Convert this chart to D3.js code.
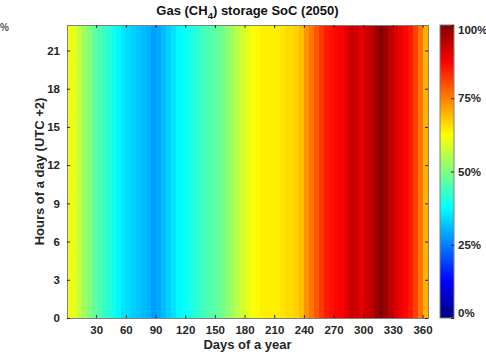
<!DOCTYPE html>
<html>
<head>
<meta charset="utf-8">
<script src="https://cdn.jsdelivr.net/npm/d3@7"></script>
<style>
  body { margin: 0; background: #fff; }
  text { font-family: "Liberation Sans", Arial, sans-serif; font-weight: bold; }
</style>
</head>
<body>
<div id="chart"></div>
<script>
// state of charge (0..1), one value per 5-day block, days 1..365
const blockStartDays = [1,6,11,16,21,26,31,36,41,46,51,56,61,66,71,76,81,86,91,96,101,106,111,116,121,126,131,136,141,146,151,156,161,166,171,176,181,186,191,196,201,206,211,216,221,226,231,236,241,246,251,256,261,266,271,276,281,286,291,296,301,306,311,316,321,326,331,336,341,346,351,356,361];
const socValues = [0.61,0.60,0.56,0.53,0.50,0.47,0.45,0.43,0.41,0.39,0.37,0.35,0.34,0.33,0.32,0.31,0.30,0.28,0.29,0.31,0.33,0.35,0.37,0.38,0.39,0.41,0.42,0.44,0.45,0.46,0.47,0.49,0.51,0.53,0.56,0.58,0.60,0.62,0.63,0.64,0.64,0.64,0.64,0.65,0.66,0.66,0.67,0.69,0.73,0.76,0.79,0.82,0.85,0.86,0.87,0.88,0.90,0.93,0.92,0.90,0.92,0.94,0.97,1.00,0.97,0.94,0.91,0.89,0.87,0.85,0.81,0.76,0.70];
const dayTicks = [30,60,90,120,150,180,210,240,270,300,330,360];
const hourTicks = [0,3,6,9,12,15,18,21];
const cbarTicks = [0,0.25,0.5,0.75,1];

const W = 486, H = 355;
const margin = { left: 67, right: 58, top: 25, bottom: 37 };
const width = W - margin.left - margin.right;
const height = H - margin.top - margin.bottom;

// MATLAB jet colormap
const jetStops = [0, 0.125, 0.375, 0.625, 0.875, 1];
const jetColors = ["#000080", "#0000ff", "#00ffff", "#ffff00", "#ff0000", "#800000"];
const color = d3.scaleLinear().domain(jetStops).range(jetColors).clamp(true);

const svg = d3.select("#chart").append("svg")
  .attr("width", W).attr("height", H);

const g = svg.append("g")
  .attr("transform", "translate(" + margin.left + "," + margin.top + ")");

const x = d3.scaleLinear().domain([0.5, 365.5]).range([0, width]);
const y = d3.scaleLinear().domain([0, 23]).range([height, 0]);

const blocks = blockStartDays.map((d, i) => ({ start: d, end: Math.min(d + 5, 366), v: socValues[i] }));

g.selectAll("rect.cell")
  .data(blocks)
  .enter()
  .append("rect")
  .attr("class", "cell")
  .attr("x", d => x(d.start - 0.5))
  .attr("y", y(23))
  .attr("width", d => x(d.end - 0.5) - x(d.start - 0.5) + 0.5)
  .attr("height", y(0) - y(23))
  .attr("fill", d => color(d.v))
  .attr("shape-rendering", "crispEdges");

// axes with inward ticks, MATLAB style
const axisColor = "#262626";
const xb = g.append("g")
  .attr("transform", "translate(0," + height + ")")
  .call(d3.axisBottom(x).tickValues(dayTicks).tickSize(-3).tickPadding(8));
const xt = g.append("g")
  .call(d3.axisTop(x).tickValues(dayTicks).tickSize(-3).tickFormat(""));
const yl = g.append("g")
  .call(d3.axisLeft(y).tickValues(hourTicks).tickSize(-3).tickPadding(7));
const yr = g.append("g")
  .attr("transform", "translate(" + width + ",0)")
  .call(d3.axisRight(y).tickValues(hourTicks).tickSize(-3).tickFormat(""));

[xb, xt, yl, yr].forEach(a => {
  a.select(".domain").attr("stroke", "#808080").attr("stroke-width", 1);
  a.selectAll(".tick line").attr("stroke", axisColor);
  a.selectAll("text").attr("fill", axisColor).style("font-size", "11.5px")
    .style("font-family", "'Liberation Sans', Arial, sans-serif").style("font-weight", "bold");
});

// title
const title = svg.append("text")
  .attr("x", margin.left + width / 2)
  .attr("y", 15)
  .attr("text-anchor", "middle")
  .style("font-size", "13px")
  .attr("fill", "#111");
title.append("tspan").text("Gas (CH");
title.append("tspan").text("4").attr("dy", 4).style("font-size", "9.5px");
title.append("tspan").text(") storage SoC (2050)").attr("dy", -4);

// axis labels
svg.append("text")
  .attr("x", margin.left + width / 2)
  .attr("y", 349)
  .attr("text-anchor", "middle")
  .style("font-size", "13px")
  .attr("fill", "#262626")
  .text("Days of a year");

svg.append("text")
  .attr("transform", "translate(44," + (margin.top + height / 2) + ") rotate(-90)")
  .attr("text-anchor", "middle")
  .style("font-size", "13px")
  .attr("fill", "#262626")
  .text("Hours of a day (UTC +2)");

// colorbar
const cbX = 440, cbW = 14;
const cy = d3.scaleLinear().domain([0, 1]).range([margin.top + height, margin.top]);
const defs = svg.append("defs");
const grad = defs.append("linearGradient")
  .attr("id", "jet").attr("x1", 0).attr("y1", 1).attr("x2", 0).attr("y2", 0);
grad.selectAll("stop")
  .data(jetStops)
  .enter()
  .append("stop")
  .attr("offset", d => d)
  .attr("stop-color", d => color(d));

svg.append("rect")
  .attr("x", cbX).attr("y", cy(1))
  .attr("width", cbW).attr("height", cy(0) - cy(1))
  .attr("fill", "url(#jet)")
  .attr("stroke", "#808080").attr("stroke-width", 1);

const cb = svg.append("g")
  .attr("transform", "translate(" + (cbX + cbW) + ",0)")
  .call(d3.axisRight(cy).tickValues(cbarTicks).tickSize(-3).tickPadding(4)
    .tickFormat(d => Math.round(d * 100) + "%"));
cb.select(".domain").remove();
cb.selectAll(".tick line").attr("stroke", axisColor);
cb.selectAll("text").attr("fill", axisColor).style("font-size", "11.5px")
  .style("font-family", "'Liberation Sans', Arial, sans-serif").style("font-weight", "bold");
cb.select(".tick:first-of-type text").attr("dy", "-0.1em");
cb.select(".tick:last-of-type text").attr("dy", "0.75em");

// fragment at the left edge
svg.append("text")
  .attr("x", 0).attr("y", 31)
  .style("font-size", "10px")
  .attr("fill", "#555")
  .text("%");
</script>
</body>
</html>
